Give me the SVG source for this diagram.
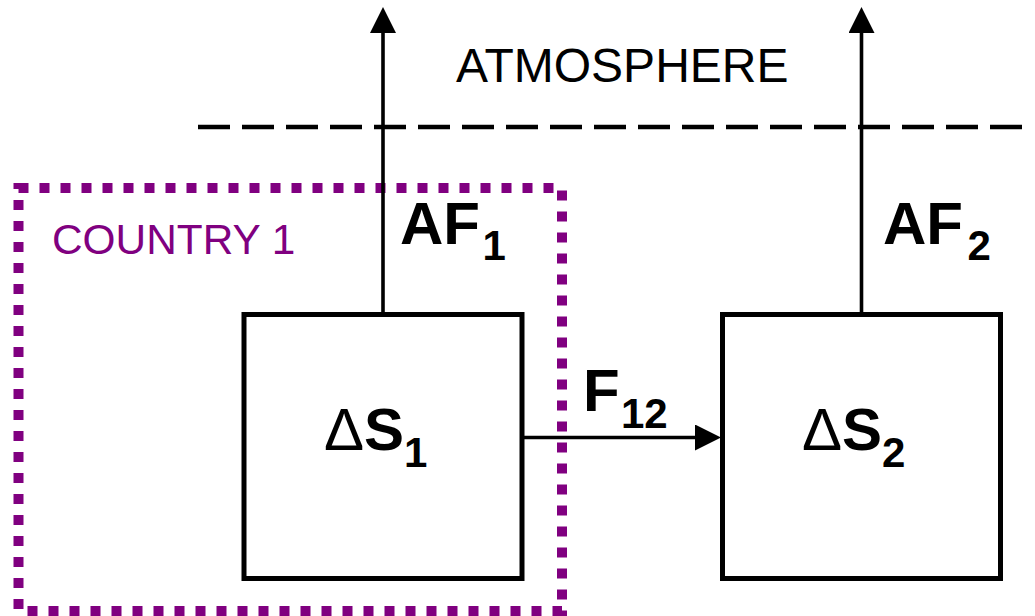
<svg xmlns="http://www.w3.org/2000/svg" width="1035" height="616" viewBox="0 0 1035 616">
<style>
.box{fill:#fff;stroke:#000;stroke-width:5}
.conn{stroke:#000;stroke-width:3.6;fill:none}
.lbl{font-family:"Liberation Sans",Arial,sans-serif;fill:#000}
.b{font-weight:bold}
</style>
<defs>
<marker id="arr" markerUnits="userSpaceOnUse" markerWidth="26" markerHeight="26" viewBox="0 0 26 26" refX="0" refY="13" orient="auto">
<path d="M0,0 L26,13 L0,26 z" fill="#000"/>
</marker>
</defs>
<rect width="1035" height="616" fill="#fff"/>
<g id="atmosphere">
<line x1="198" y1="127" x2="1025" y2="127" stroke="#000" stroke-width="4.5" stroke-dasharray="32 12"/>
<text class="lbl" x="456" y="82" font-size="48">ATMOSPHERE</text>
</g>
<g id="country1">
<rect x="18.5" y="188" width="543.5" height="423" fill="none" stroke="#800080" stroke-width="10" stroke-dasharray="10 11"/>
<text x="52" y="254" font-family="Liberation Sans, Arial, sans-serif" font-size="42.4" fill="#800080">COUNTRY 1</text>
</g>
<g id="connectors">
<line class="conn" x1="383" y1="314" x2="383" y2="33" marker-end="url(#arr)"/>
<line class="conn" x1="861.5" y1="314" x2="861.5" y2="33" marker-end="url(#arr)"/>
<line class="conn" x1="522" y1="437.5" x2="695" y2="437.5" marker-end="url(#arr)"/>
<text class="lbl b" x="400" y="244" font-size="60">AF</text>
<text class="lbl b" x="482.5" y="260" font-size="42">1</text>
<text class="lbl b" x="883" y="244" font-size="60">AF</text>
<text class="lbl b" x="967.5" y="260" font-size="42">2</text>
<text class="lbl b" x="583" y="410.5" font-size="60">F</text>
<text class="lbl b" x="621" y="428" font-size="42">12</text>
</g>
<g id="node-s1">
<rect class="box" x="244" y="314.5" width="278" height="264"/>
<text class="lbl" x="324" y="450" font-size="60">Δ<tspan class="b">S</tspan><tspan class="b" font-size="42" dy="17">1</tspan></text>
</g>
<g id="node-s2">
<rect class="box" x="722.5" y="314.5" width="278" height="264"/>
<text class="lbl" x="802" y="450" font-size="60">Δ<tspan class="b">S</tspan><tspan class="b" font-size="42" dy="17">2</tspan></text>
</g>
</svg>
